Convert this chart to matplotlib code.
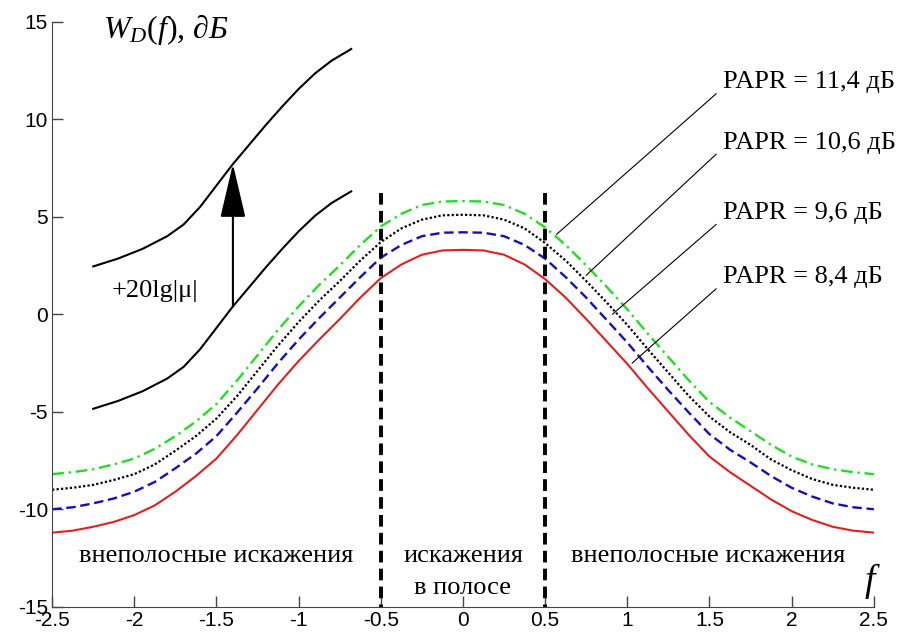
import matplotlib
matplotlib.use('Agg')
import matplotlib.pyplot as plt

plt.rcParams['mathtext.fontset'] = 'custom'
plt.rcParams['mathtext.rm'] = 'Liberation Serif'
plt.rcParams['mathtext.it'] = 'Liberation Serif:italic'

# normalised frequency grid
f = [-2.5, -2.375, -2.25, -2.125, -2.0, -1.875, -1.75, -1.625, -1.5, -1.375,
     -1.25, -1.125, -1.0, -0.875, -0.75, -0.625, -0.5, -0.375, -0.25, -0.125,
     0.0, 0.125, 0.25, 0.375, 0.5, 0.625, 0.75, 0.875, 1.0, 1.125, 1.25,
     1.375, 1.5, 1.625, 1.75, 1.875, 2.0, 2.125, 2.25, 2.375, 2.5]

# spectral density of distortions, dB
w_84 = [-11.2, -11.1, -10.9, -10.65, -10.3, -9.8, -9.1, -8.3, -7.4, -6.2,
        -4.9, -3.6, -2.4, -1.3, -0.25, 0.85, 1.85, 2.55, 3.05, 3.27,
        3.3, 3.27, 3.05, 2.55, 1.8, 0.85, -0.25, -1.4, -2.55, -3.8, -5.0,
        -6.2, -7.3, -8.1, -8.8, -9.5, -10.1, -10.55, -10.9, -11.1, -11.2]
w_96 = [-10.0, -9.9, -9.7, -9.45, -9.1, -8.6, -7.9, -7.15, -6.25, -5.05,
        -3.8, -2.5, -1.3, -0.2, 0.85, 1.9, 2.9, 3.55, 4.0, 4.18,
        4.2, 4.18, 4.0, 3.55, 2.85, 1.9, 0.85, -0.3, -1.45, -2.7, -3.9,
        -5.05, -6.15, -6.95, -7.6, -8.3, -8.9, -9.35, -9.7, -9.9, -10.0]
w_106 = [-9.0, -8.9, -8.75, -8.5, -8.2, -7.7, -7.0, -6.25, -5.35, -4.2,
         -2.9, -1.6, -0.4, 0.7, 1.7, 2.75, 3.7, 4.4, 4.85, 5.07,
         5.1, 5.07, 4.85, 4.4, 3.65, 2.75, 1.7, 0.6, -0.55, -1.8, -3.0,
         -4.2, -5.25, -6.05, -6.7, -7.45, -8.0, -8.45, -8.75, -8.9, -9.0]
w_114 = [-8.2, -8.1, -7.95, -7.7, -7.4, -6.9, -6.25, -5.5, -4.6, -3.4,
         -2.1, -0.8, 0.4, 1.5, 2.5, 3.55, 4.5, 5.15, 5.6, 5.78,
         5.8, 5.78, 5.6, 5.15, 4.45, 3.55, 2.5, 1.4, 0.25, -1.0, -2.2,
         -3.4, -4.5, -5.3, -6.0, -6.7, -7.3, -7.7, -7.95, -8.1, -8.2]

papr_labels = ['PAPR = 11,4 дБ', 'PAPR = 10,6 дБ', 'PAPR = 9,6 дБ', 'PAPR = 8,4 дБ']

# sketch of the shift by 20lg|mu|
sk_x = [-2.25, -2.1, -1.95, -1.8, -1.7, -1.6, -1.5, -1.4, -1.3, -1.2,
        -1.1, -1.0, -0.9, -0.8, -0.68]
sk_low = [-4.85, -4.45, -3.95, -3.3, -2.7, -1.8, -0.7, 0.4, 1.4, 2.4,
          3.35, 4.25, 5.05, 5.7, 6.3]
sk_high = [2.45, 2.85, 3.35, 4.0, 4.6, 5.5, 6.6, 7.7, 8.7, 9.7,
           10.65, 11.55, 12.35, 13.0, 13.6]

fig = plt.figure(figsize=(8.99, 6.38), dpi=100)
ax = fig.add_axes([0.058, 0.049, 0.914, 0.917])

ax.plot(f, w_84, color='#e02020', lw=1.5, ls='-')
ax.plot(f, w_96, color='#1010c0', lw=1.7, ls=(0, (4, 2)))
ax.plot(f, w_106, color='black', lw=1.6, ls=(0, (1, 1)))
ax.plot(f, w_114, color='#22dd22', lw=1.7, ls=(0, (5, 2, 1, 2)))

# band edges
for xb in (-0.5, 0.5):
    ax.plot([xb, xb], [6.2, -15], color='black', lw=2.8, ls=(0, (3, 1.6)))

ax.plot(sk_x, sk_low, color='black', lw=1.5)
ax.plot(sk_x, sk_high, color='black', lw=1.5)
ax.annotate('', xy=(-1.4, 7.7), xytext=(-1.4, 0.4),
            arrowprops=dict(arrowstyle='-|>,head_length=3.4,head_width=0.8',
                            mutation_scale=10, color='black', lw=1.5,
                            shrinkA=0, shrinkB=0))
ax.text(-2.14, 1.2, '+20lg|μ|', fontsize=19, family='Liberation Serif',
        va='center', ha='left')

# labels of the curves with leader lines
lab_y = [11.9, 8.8, 5.2, 1.9]
tip_x = [0.57, 0.75, 0.91, 1.03]
tip_y = [4.1, 2.0, 0.0, -2.5]
for lab, ly, tx, ty in zip(papr_labels, lab_y, tip_x, tip_y):
    ax.text(1.58, ly, lab, fontsize=19, family='Liberation Serif',
            va='center', ha='left')
    ax.plot([1.54, tx], [ly - 0.6, ty], color='black', lw=0.8)

ax.text(-1.5, -12.4, 'внеполосные искажения', fontsize=19,
        family='Liberation Serif', ha='center', va='center')
ax.text(1.49, -12.4, 'внеполосные искажения', fontsize=19,
        family='Liberation Serif', ha='center', va='center')
ax.text(0.0, -12.4, 'искажения', fontsize=19,
        family='Liberation Serif', ha='center', va='center')
ax.text(0.0, -14.05, 'в полосе', fontsize=19,
        family='Liberation Serif', ha='center', va='center')

ax.text(2.49, -13.7, r'$f$', fontsize=27, ha='center', va='center')
ax.text(-2.19, 14.6, r'$W_D(f)$, $\partial$Б', fontsize=23,
        family='Liberation Serif', style='italic', ha='left', va='center')

ax.set_xlim(-2.5, 2.5)
ax.set_ylim(-15, 15)
ax.set_xticks([-2.5, -2, -1.5, -1, -0.5, 0, 0.5, 1, 1.5, 2, 2.5])
ax.set_xticklabels(['-2.5', '-2', '-1.5', '-1', '-0.5', '0', '0.5', '1',
                    '1.5', '2', '2.5'])
ax.set_yticks([-15, -10, -5, 0, 5, 10, 15])
ax.set_yticklabels(['-15', '-10', '-5', '0', '5', '10', '15'])
ax.tick_params(direction='in', length=8, width=1, color='#444444',
               labelsize=15, pad=3)
for lbl in ax.get_xticklabels() + ax.get_yticklabels():
    lbl.set_family('Liberation Sans')
ax.spines['top'].set_visible(False)
ax.spines['right'].set_visible(False)
ax.spines['left'].set_color('#444444')
ax.spines['bottom'].set_color('#444444')

fig.savefig('out.png', dpi=100)
